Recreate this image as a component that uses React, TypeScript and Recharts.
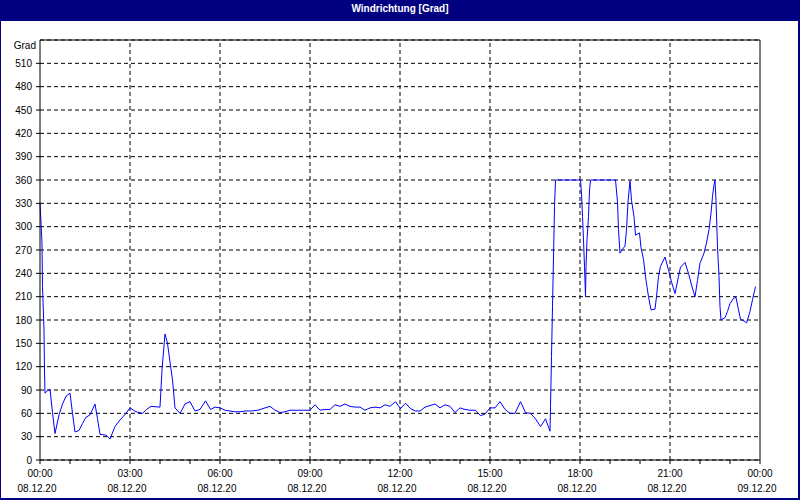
import React from 'react';
import { LineChart, Line, XAxis, YAxis, CartesianGrid, ReferenceLine } from 'recharts';

// minutes since 08.12.20 00:00
const times = [
  0, 4, 5, 8, 9, 10, 15, 20, 25, 30, 38, 45, 52, 60, 65, 70, 78, 85, 92, 100,
  110, 115, 120, 132, 140, 150, 158, 172, 180, 192, 205, 213, 222, 240, 244, 250, 255, 260, 265, 270,
  280, 290, 300, 310, 320, 331, 341, 350, 360, 370, 380, 390, 400, 410, 423, 436, 450, 460, 470, 480,
  490, 500, 510, 520, 540, 550, 560, 570, 580, 590, 600, 610, 620, 630, 640, 650, 660, 670, 680, 690,
  700, 711, 721, 731, 741, 751, 760, 770, 780, 790, 800, 810, 820, 830, 840, 850, 860, 871, 881, 890,
  900, 910, 920, 930, 940, 950, 961, 971, 981, 991, 1001, 1011, 1020, 1021, 1023, 1025, 1027, 1029, 1031, 1081,
  1083, 1085, 1087, 1089, 1091, 1092, 1094, 1097, 1099, 1101, 1151, 1155, 1157, 1160, 1165, 1170, 1173, 1176, 1180, 1183,
  1188, 1191, 1199, 1202, 1207, 1212, 1217, 1222, 1230, 1233, 1237, 1241, 1250, 1257, 1263, 1270, 1277, 1281, 1290, 1297,
  1303, 1310, 1315, 1320, 1328, 1333, 1338, 1342, 1345, 1348, 1350, 1352, 1355, 1358, 1360, 1362, 1370, 1375, 1380, 1387,
  1392, 1397, 1401, 1410, 1413, 1420, 1425, 1431,
];

const degrees = [
  331, 279, 223, 167, 113, 86, 89, 91, 61, 34, 58, 72, 82, 86, 60, 36, 38, 47, 55, 58,
  72, 53, 33, 32, 27, 43, 50, 60, 67, 62, 60, 65, 69, 68, 116, 162, 150, 126, 103, 67,
  60, 72, 75, 63, 65, 76, 65, 68, 67, 64, 63, 62, 62, 63, 63, 64, 67, 69, 64, 61,
  62, 64, 64, 64, 64, 71, 64, 65, 65, 71, 69, 72, 69, 68, 68, 64, 67, 68, 67, 71,
  69, 75, 66, 73, 66, 63, 63, 68, 70, 72, 67, 71, 69, 61, 67, 65, 64, 64, 57, 59,
  67, 67, 75, 65, 60, 60, 75, 61, 60, 53, 43, 53, 37, 69, 133, 197, 261, 326, 360, 360,
  343, 313, 283, 249, 210, 249, 283, 313, 347, 360, 360, 332, 296, 266, 271, 275, 296, 332, 359, 334,
  313, 289, 292, 273, 258, 231, 210, 193, 194, 210, 236, 249, 261, 244, 229, 214, 236, 248, 254, 240,
  225, 210, 231, 253, 266, 279, 296, 317, 339, 354, 360, 334, 274, 236, 197, 180, 183, 191, 201, 208,
  209, 193, 181, 178, 176, 191, 206, 223,
];

const hourTicks = [
  0, 60, 120, 180, 240, 300, 360, 420, 480, 540, 600, 660, 720, 780, 840, 900, 960, 1020,
  1080, 1140, 1200, 1260, 1320, 1380, 1440,
];
const labelTicks = [0, 180, 360, 540, 720, 900, 1080, 1260, 1440];
const timeLabels = ['00:00', '03:00', '06:00', '09:00', '12:00', '15:00', '18:00', '21:00', '00:00'];
const dateLabels = ['08.12.20', '08.12.20', '08.12.20', '08.12.20', '08.12.20', '08.12.20', '08.12.20', '08.12.20', '09.12.20'];
const innerGridX = [180, 360, 540, 720, 900, 1080, 1260];

const leftTicks = [0, 30, 60, 90, 120, 150, 180, 210, 240, 270, 300, 330, 360, 390, 420, 450, 480, 510, 540];
const rightTicks = [0, 45, 90, 135, 180, 225, 270, 315, 360, 405, 450, 495, 540];
const rightLabels = ['N', 'NE', 'E', 'SE', 'S', 'SW', 'W', 'NW', 'N', 'NE', 'E', 'SE', 'S'];

const data = times.map((t, i) => ({ t, deg: degrees[i] }));

const FONT = '"Liberation Sans", Arial, sans-serif';

const XTick = (props: any) => {
  const { x, y, payload } = props;
  const idx = labelTicks.indexOf(payload.value);
  if (idx < 0) return <g />;
  return (
    <g>
      <text x={x} y={y} dy={11} textAnchor="middle" fontSize={10} fontFamily={FONT} fill="#000">
        {timeLabels[idx]}
      </text>
      <text x={x - 3} y={y} dy={26} textAnchor="middle" fontSize={10} fontFamily={FONT} fill="#000">
        {dateLabels[idx]}
      </text>
    </g>
  );
};

const LeftTick = (props: any) => {
  const { x, y, payload } = props;
  const v = payload.value;
  const isTop = v === 540;
  return (
    <g>
      {!isTop && <line x1={x + 4} x2={x + 8} y1={y} y2={y} stroke="#000" />}
      <text x={isTop ? x + 4 : x} y={isTop ? y + 5 : y} dy="0.35em" textAnchor="end" fontSize={10} fontFamily={FONT} fill="#000">
        {isTop ? 'Grad' : String(v)}
      </text>
    </g>
  );
};

const RightTick = (props: any) => {
  const { x, y, payload } = props;
  const idx = rightTicks.indexOf(payload.value);
  return (
    <text x={x} y={y} dy="0.35em" textAnchor="start" fontSize={10} fontFamily={FONT} fill="#000">
      {rightLabels[idx]}
    </text>
  );
};

export default function App() {
  return (
    <div
      style={{
        position: 'absolute',
        left: 0,
        top: 0,
        width: 800,
        height: 500,
        background: '#ffffff',
        boxSizing: 'border-box',
        borderLeft: '1px solid #000080',
        borderRight: '2px solid #000080',
        borderBottom: '2px solid #000080',
      }}
    >
      <div
        style={{
          position: 'absolute',
          left: -1,
          top: 0,
          width: 800,
          height: 21,
          background: '#000080',
          color: '#ffffff',
          fontFamily: FONT,
          fontWeight: 'bold',
          fontSize: 10,
          lineHeight: '18px',
          textAlign: 'center',
        }}
      >
        Windrichtung [Grad]
      </div>
      <div style={{ position: 'absolute', left: -1, top: 0 }}>
        <LineChart width={800} height={500} data={data} margin={{ top: 40, right: 0, bottom: 0, left: 0 }}>
          <CartesianGrid yAxisId="left" vertical={false} stroke="#000" strokeDasharray="4 3" />
          {innerGridX.map((v) => (
            <ReferenceLine key={v} x={v} yAxisId="left" stroke="#000" strokeDasharray="4 3" />
          ))}
          <ReferenceLine y={540} yAxisId="left" stroke="#000" />
          <XAxis
            dataKey="t"
            type="number"
            domain={[0, 1440]}
            ticks={hourTicks}
            interval={0}
            height={40}
            stroke="#000"
            tickSize={4}
            tickMargin={2}
            tick={<XTick />}
          />
          <YAxis
            yAxisId="left"
            orientation="left"
            type="number"
            domain={[0, 540]}
            ticks={leftTicks}
            interval={0}
            width={40}
            stroke="#000"
            tickLine={false}
            tickSize={0}
            tickMargin={8}
            tick={<LeftTick />}
          />
          <YAxis
            yAxisId="right"
            orientation="right"
            type="number"
            domain={[0, 540]}
            ticks={rightTicks}
            interval={0}
            width={40}
            stroke="#000"
            tickSize={4}
            tickMargin={1}
            tick={<RightTick />}
          />
          <Line
            yAxisId="left"
            type="linear"
            dataKey="deg"
            stroke="#0000ff"
            strokeWidth={1}
            dot={false}
            isAnimationActive={false}
          />
        </LineChart>
      </div>
    </div>
  );
}
